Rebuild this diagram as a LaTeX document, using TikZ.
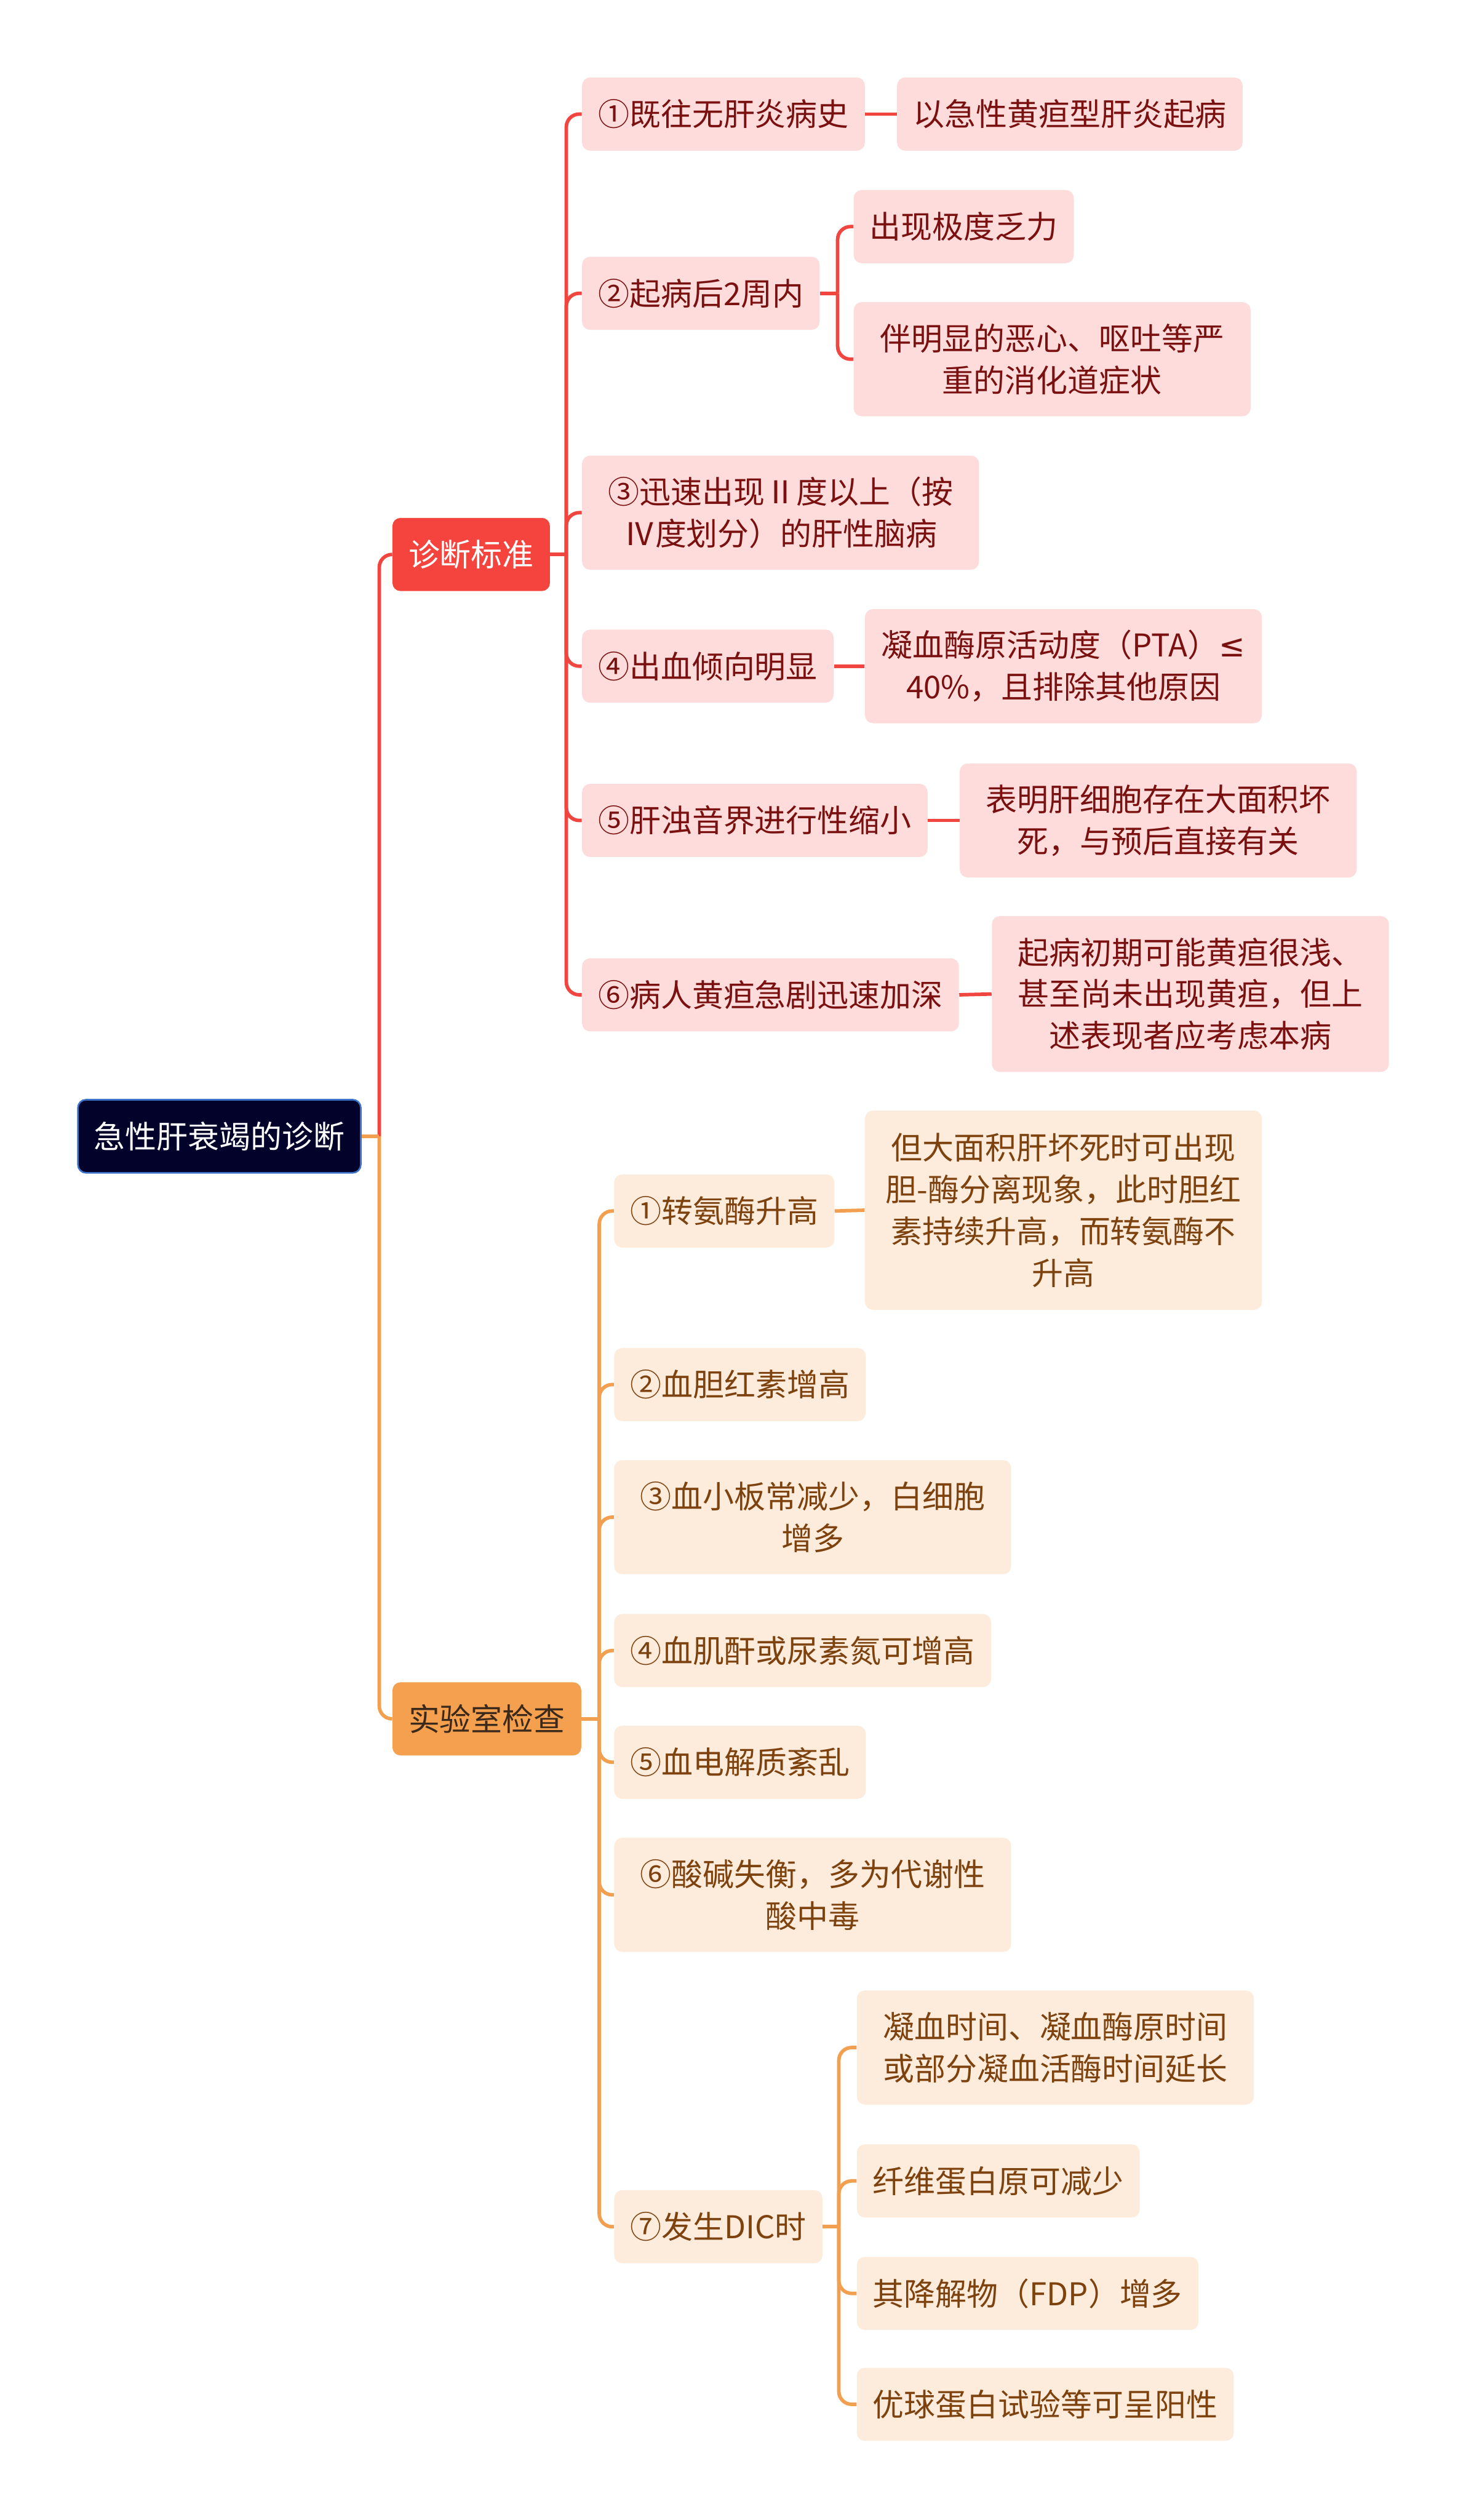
\documentclass[tikz,border=0pt]{standalone}
\usepackage{fontspec}
\setmainfont{Noto Sans CJK SC}
\newfontfamily\symfont{DejaVu Sans}
\definecolor{rootfill}{HTML}{02022B}
\definecolor{rootborder}{HTML}{3D72C9}
\definecolor{redfill}{HTML}{F5443E}
\definecolor{orgfill}{HTML}{F5A04E}
\definecolor{orgtext}{HTML}{3B2A1C}
\definecolor{pinkfill}{HTML}{FDDCDB}
\definecolor{pinktext}{HTML}{7A1010}
\definecolor{peachfill}{HTML}{FDEBDC}
\definecolor{peachtext}{HTML}{7D420E}
\definecolor{lnredc}{HTML}{F0463F}
\definecolor{lnorgc}{HTML}{F2A050}
\begin{document}
\begin{tikzpicture}[x=1pt,y=-1pt,
  box/.style={rounded corners=5pt, inner xsep=10pt, inner ysep=0pt,
    minimum height=45.5pt, anchor=west, align=center,
    font=\fontsize{19.5}{26}\selectfont},
  rootbox/.style={box, fill=rootfill, draw=rootborder, line width=1pt, text=white},
  redmain/.style={box, fill=redfill, text=white},
  orgmain/.style={box, fill=orgfill, text=orgtext},
  rbox/.style={box, fill=pinkfill, text=pinktext},
  obox/.style={box, fill=peachfill, text=peachtext},
  ltwo/.style={minimum width=247pt, minimum height=71pt},
  lthree/.style={minimum width=247pt, minimum height=97pt},
  lfour/.style={minimum width=247pt, minimum height=124pt},
  lnR/.style={draw=lnredc, line width=2.2pt, rounded corners=8pt},
  lnO/.style={draw=lnorgc, line width=2.2pt, rounded corners=8pt}]
\useasboundingbox (0,0) rectangle (912,1568);
\fill[white] (0,0) rectangle (912,1568);

% root and main branches
\node[rootbox] (root) at (48,707) {急性肝衰竭的诊断};
\node[redmain] (b1) at (244,345) {诊断标准};
\node[orgmain] (b2) at (244,1069.5) {实验室检查};

% diagnostic criteria
\node[rbox] (c1) at (362,71) {①既往无肝炎病史};
\node[rbox] (c1a) at (558,71) {以急性黄疸型肝炎起病};
\node[rbox] (c2) at (362,182.5) {②起病后2周内};
\node[rbox] (c2a) at (531,141) {出现极度乏力};
\node[rbox,ltwo] (c2b) at (531,223.5) {伴明显的恶心、呕吐等严\\重的消化道症状};
\node[rbox,ltwo] (c3) at (362,319) {③迅速出现Ⅱ度以上（按\\Ⅳ度划分）的肝性脑病};
\node[rbox] (c4) at (362,414.5) {④出血倾向明显};
\node[rbox,ltwo] (c4a) at (538,414.5) {凝血酶原活动度（PTA）{\symfont ≤}\\40\%，且排除其他原因};
\node[rbox] (c5) at (362,510.5) {⑤肝浊音界进行性缩小};
\node[rbox,ltwo] (c5a) at (597,510.5) {表明肝细胞存在大面积坏\\死，与预后直接有关};
\node[rbox] (c6) at (362,619) {⑥病人黄疸急剧迅速加深};
\node[rbox,lthree] (c6a) at (617,618.5) {起病初期可能黄疸很浅、\\甚至尚未出现黄疸，但上\\述表现者应考虑本病};

% laboratory tests
\node[obox] (d1) at (382,753.5) {①转氨酶升高};
\node[obox,lfour] (d1a) at (538,753) {但大面积肝坏死时可出现\\胆-酶分离现象，此时胆红\\素持续升高，而转氨酶不\\升高};
\node[obox] (d2) at (382,861.5) {②血胆红素增高};
\node[obox,ltwo] (d3) at (382,944) {③血小板常减少，白细胞\\增多};
\node[obox] (d4) at (382,1027) {④血肌酐或尿素氮可增高};
\node[obox] (d5) at (382,1096.5) {⑤血电解质紊乱};
\node[obox,ltwo] (d6) at (382,1179) {⑥酸碱失衡，多为代谢性\\酸中毒};
\node[obox] (d7) at (382,1385.5) {⑦发生DIC时};
\node[obox,ltwo] (e1) at (533,1274) {凝血时间、凝血酶原时间\\或部分凝血活酶时间延长};
\node[obox] (e2) at (533,1357) {纤维蛋白原可减少};
\node[obox] (e3) at (533,1427) {其降解物（FDP）增多};
\node[obox] (e4) at (533,1496) {优球蛋白试验等可呈阳性};

% connectors from root
\path (root.east) ++(11,0) coordinate (j0);
\draw[lnR] (j0) |- (b1.west);
\draw[lnO] (j0) |- (b2.west);
\draw[lnO] (root.east) -- (j0);

% diagnostic branch
\path (b1.east) ++(10,0) coordinate (j1);
\draw[lnR] (b1.east) -- (j1);
\foreach \c in {c1,c2,c3,c4,c5,c6} \draw[lnR] (j1) |- (\c.west);
\draw[lnR] (c1.east) -- (c1a.west);
\path (c2.east) ++(11,0) coordinate (j2);
\draw[lnR] (c2.east) -- (j2);
\foreach \c in {c2a,c2b} \draw[lnR] (j2) |- (\c.west);
\draw[lnR] (c4.east) -- (c4a.west);
\draw[lnR] (c5.east) -- (c5a.west);
\draw[lnR] (c6.east) -- (c6a.west);

% lab branch
\path (b2.east) ++(11,0) coordinate (j3);
\draw[lnO] (b2.east) -- (j3);
\foreach \c in {d1,d2,d3,d4,d5,d6,d7} \draw[lnO] (j3) |- (\c.west);
\draw[lnO] (d1.east) -- (d1a.west);
\path (d7.east) ++(10,0) coordinate (j4);
\draw[lnO] (d7.east) -- (j4);
\foreach \c in {e1,e2,e3,e4} \draw[lnO] (j4) |- (\c.west);
\end{tikzpicture}
\end{document}
